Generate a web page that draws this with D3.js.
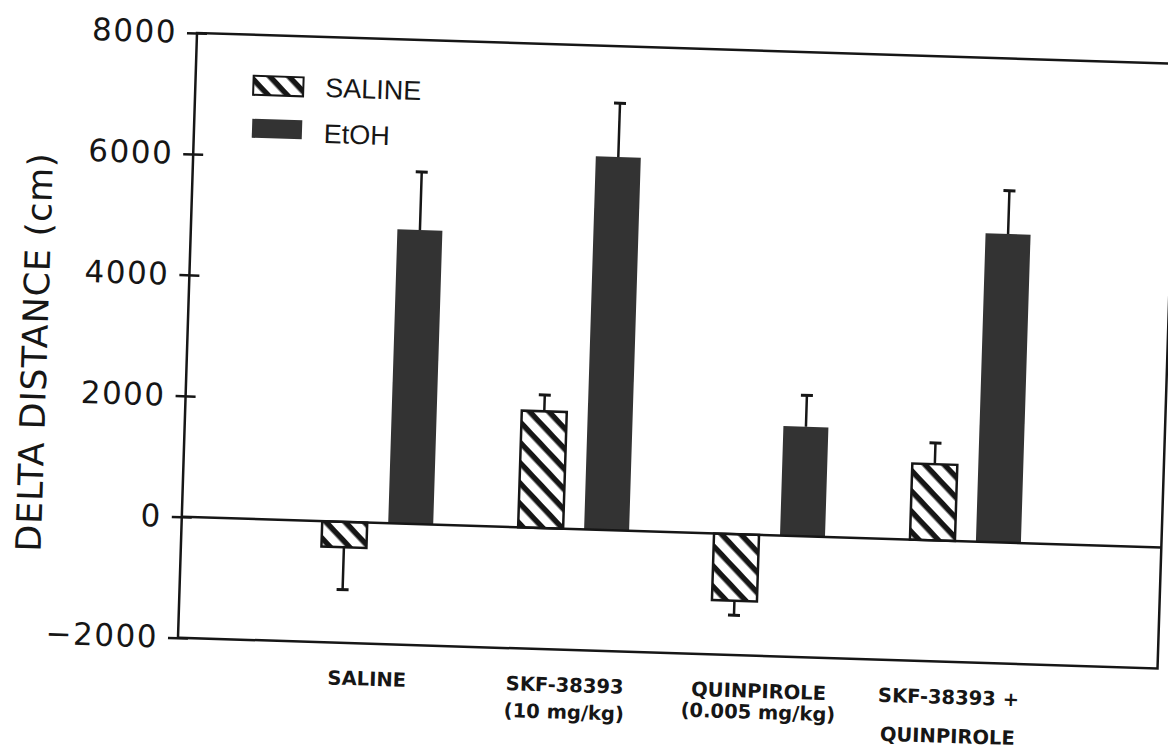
<!DOCTYPE html>
<html><head><meta charset="utf-8">
<script src="https://cdn.jsdelivr.net/npm/d3@7"></script>
<style>
html,body{margin:0;padding:0;background:#fff;}
svg{display:block;}
</style></head><body>
<svg id="chart" width="1168" height="750"></svg>
<script>
// ---- data ----
const categories = ["SALINE", "SKF-38393 (10 mg/kg)", "QUINPIROLE (0.005 mg/kg)", "SKF-38393 + QUINPIROLE"];
const categoryLines = [["SALINE"], ["SKF-38393", "(10 mg/kg)"], ["QUINPIROLE", "(0.005 mg/kg)"], ["SKF-38393 +", "QUINPIROLE"]];
const series = ["SALINE", "EtOH"];
const salineMeans = [-420, 1930, -1100, 1260];
const salineErrors = [700, 270, 240, 350];
const etohMeans = [4860, 6170, 1810, 5100];
const etohErrors = [960, 890, 520, 715];
const yTicks = [-2000, 0, 2000, 4000, 6000, 8000];
const yTickLabels = ["\u22122000", "0", "2000", "4000", "6000", "8000"];
const yTitle = "DELTA DISTANCE (cm)";

// ---- layout (scanned page is slightly rotated) ----
const W = 980, H = 605;
const INK = "#161616";
const DARK = "#333333";
const LINE2_DY = [0, 27, 21, 39];
const LABEL_DX = [-6, -4, -6, -12];

const svg = d3.select("#chart");
const defs = svg.append("defs");
const pat = defs.append("pattern").attr("id", "hatch")
  .attr("patternUnits", "userSpaceOnUse").attr("width", 14).attr("height", 14)
  .attr("patternTransform", "rotate(45)");
pat.append("rect").attr("width", 14).attr("height", 14).attr("fill", "#fff");
pat.append("rect").attr("width", 14).attr("height", 5.5).attr("fill", INK);

const g = svg.append("g").attr("transform", "translate(197,33) rotate(1.8)");

const x0 = d3.scalePoint().domain(categories).range([0, W]).padding(1);
const x1 = d3.scaleBand().domain(series).range([-55.5, 55.5]).paddingInner(0.318);
const y = d3.scaleLinear().domain([-2000, 8000]).range([H, 0]);

const rows = [];
categories.forEach((c, i) => {
  rows.push({cat: c, s: "SALINE", mean: salineMeans[i], err: salineErrors[i]});
  rows.push({cat: c, s: "EtOH", mean: etohMeans[i], err: etohErrors[i]});
});
const fillFor = s => s === "SALINE" ? "url(#hatch)" : DARK;

// bars
g.append("g").selectAll("rect").data(rows).join("rect")
  .attr("x", d => x0(d.cat) + x1(d.s))
  .attr("width", x1.bandwidth())
  .attr("y", d => y(Math.max(0, d.mean)))
  .attr("height", d => Math.abs(y(d.mean) - y(0)))
  .attr("fill", d => fillFor(d.s))
  .attr("stroke", d => d.s === "SALINE" ? INK : "none")
  .attr("stroke-width", 2.5);

// error bars
const eb = g.append("g").attr("stroke", INK).attr("stroke-width", 2.5).attr("fill", "none");
rows.forEach(d => {
  const cx = x0(d.cat) + x1(d.s) + x1.bandwidth() / 2;
  const end = d.mean >= 0 ? d.mean + d.err : d.mean - d.err;
  eb.append("line").attr("x1", cx).attr("x2", cx).attr("y1", y(d.mean)).attr("y2", y(end));
  eb.append("line").attr("x1", cx - 6).attr("x2", cx + 6).attr("y1", y(end)).attr("y2", y(end)).attr("stroke-width", 3);
});

// zero line
g.append("line").attr("x1", 0).attr("x2", W).attr("y1", y(0)).attr("y2", y(0))
  .attr("stroke", INK).attr("stroke-width", 2.5);

// frame
g.append("rect").attr("x", 0).attr("y", 0).attr("width", W).attr("height", H)
  .attr("fill", "none").attr("stroke", INK).attr("stroke-width", 2.5);

// y axis
const yAxis = d3.axisLeft(y).tickValues(yTicks)
  .tickFormat(d => yTickLabels[yTicks.indexOf(d)]).tickSize(10).tickPadding(10);
const ag = g.append("g").call(yAxis);
ag.select(".domain").remove();
ag.selectAll(".tick line").attr("x1", 10).attr("stroke", INK).attr("stroke-width", 2.5);
ag.selectAll(".tick text").attr("font-family", "DejaVu Sans").attr("font-size", 31)
  .attr("letter-spacing", 1.5).attr("fill", INK);

// y title
g.append("text").attr("transform", "translate(-140,324) rotate(-90)")
  .attr("text-anchor", "middle").attr("font-family", "DejaVu Sans").attr("font-size", 35)
  .attr("letter-spacing", 0.8).attr("fill", INK).text(yTitle);

// legend
const legend = g.append("g").attr("transform", "translate(58,41)");
series.forEach((s, i) => {
  const row = legend.append("g").attr("transform", `translate(0,${i * 43})`);
  row.append("rect").attr("width", 50).attr("height", 19).attr("fill", fillFor(s))
    .attr("stroke", s === "SALINE" ? INK : "none").attr("stroke-width", 2);
  row.append("text").attr("x", 72).attr("y", 19 + i * 3).attr("font-family", "Liberation Sans, Arial, sans-serif")
    .attr("font-size", 27).attr("fill", INK).text(s);
});

// category labels
const cl = g.append("g").attr("font-family", "DejaVu Sans").attr("font-weight", "bold")
  .attr("font-size", 19.5).attr("fill", INK).attr("text-anchor", "middle");
categories.forEach((c, i) => {
  const t = cl.append("text").attr("x", x0(c) + LABEL_DX[i]).attr("y", H + 42);
  categoryLines[i].forEach((ln, j) => {
    t.append("tspan").attr("x", x0(c) + LABEL_DX[i]).attr("y", H + 42 + (j ? LINE2_DY[i] : 0)).text(ln);
  });
});
</script>
</body></html>
